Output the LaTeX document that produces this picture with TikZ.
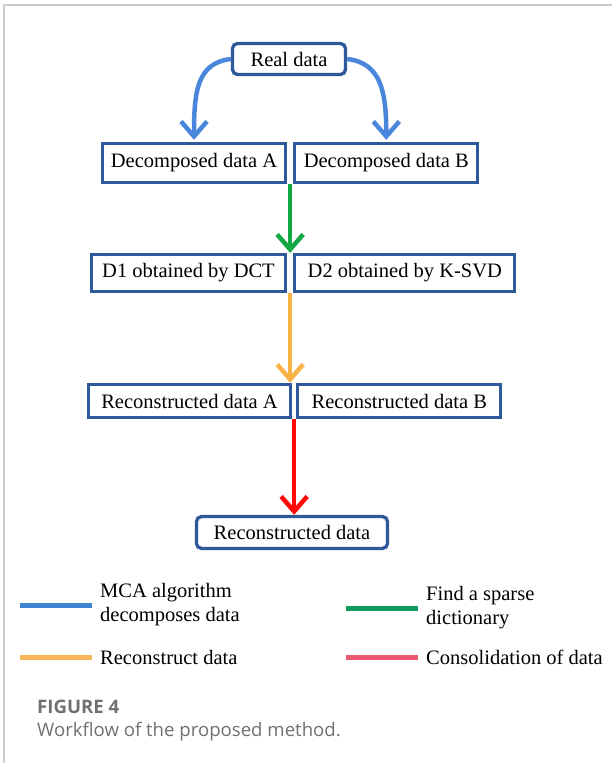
\documentclass[tikz,border=0pt]{standalone}
\usepackage{fontspec}
\setmainfont{Liberation Serif}
\newfontfamily\capfont{Open Sans}
\usetikzlibrary{arrows.meta, positioning, calc}

\definecolor{boxblue}{HTML}{2E5A9C}
\definecolor{arrblue}{HTML}{4A87DC}
\definecolor{arrgreen}{HTML}{13A845}
\definecolor{arrorange}{HTML}{F9B447}
\definecolor{arrred}{HTML}{FF0A0A}
\definecolor{legblue}{HTML}{3D85D3}
\definecolor{leggreen}{HTML}{0D9A5C}
\definecolor{legorange}{HTML}{FAB45C}
\definecolor{legpink}{HTML}{EC5A72}
\definecolor{capgray}{HTML}{707070}
\definecolor{framegray}{HTML}{CCCCCC}

\tikzset{
  box/.style={draw=boxblue, line width=3.3pt, fill=white, inner sep=0pt,
    font=\fontsize{20.5}{24}\selectfont}, % framed boxes of the workflow
  roundbox/.style={box, rounded corners=5pt}, % first and last box
  flow/.style={line width=4.5pt, -{Straight Barb[length=15pt,width=26pt]}},
  swatch/.style={line width=5pt}, % coloured lines of the legend
  legtext/.style={align=left, anchor=west, inner sep=0pt,
    font=\fontsize{20.5}{24}\selectfont},
  captext/.style={anchor=base west, inner sep=0pt, text=capgray},
}

\begin{document}
\begin{tikzpicture}[x=1pt, y=-1pt]
    \useasboundingbox (0,0) rectangle (612,763);
    \draw[framegray, line width=1.2pt] (4,763) -- (4,5) -- (612,5);

    \node[roundbox, minimum width=113pt, minimum height=31pt] (real) at (289,59) {Real data};
    \node[box, minimum width=183pt, minimum height=39pt] (decA) at (194,163) {Decomposed data A};
    \node[box, minimum width=183pt, minimum height=39pt, right=6pt of decA] (decB) {Decomposed data B};
    \node[box, minimum width=194pt, minimum height=37pt] (dA) at (188.5,273) {D1 obtained by DCT};
    \node[box, minimum width=220pt, minimum height=37pt, right=6pt of dA] (dB) {D2 obtained by K-SVD};
    \node[box, minimum width=202pt, minimum height=33pt] (recA) at (189.5,401) {Reconstructed data A};
    \node[box, minimum width=203pt, minimum height=33pt, right=4pt of recA] (recB) {Reconstructed data B};
    \node[roundbox, minimum width=191pt, minimum height=32pt] (rec) at (292,532.5) {Reconstructed data};

    \draw[flow, arrblue] (real.west) .. controls +(-34,4) and +(0,-48) .. ([yshift=2pt]decA.north);
    \draw[flow, arrblue] (real.east) .. controls +(34,4) and +(0,-48) .. ([yshift=2pt]decB.north);
    \draw[flow, arrgreen] ($(decA.south east)!0.5!(decB.south west)$) coordinate (decmid)
      -- (decmid |- dA.north);
    \draw[flow, arrorange] ($(dA.south east)!0.5!(dB.south west)$) coordinate (dmid)
      -- (dmid |- recA.north);
    \draw[flow, arrred] ($(recA.south east)!0.5!(recB.south west)$) coordinate (recmid)
      -- (recmid |- rec.north);

    % legend
    \node[legtext] (lgMCA) at (100,605) {MCA algorithm\\decomposes data};
    \node[legtext] (lgDict) at (426,608) {Find a sparse\\dictionary};
    \node[legtext] (lgRec) at (100,657) {Reconstruct data};
    \node[legtext] (lgCons) at (426,657) {Consolidation of data};
    \draw[swatch, legblue] ([xshift=-8pt]lgMCA.west) -- ++(-72,0);
    \draw[swatch, leggreen] ([xshift=-8pt]lgDict.west) -- ++(-72,0);
    \draw[swatch, legorange] ([xshift=-8pt]lgRec.west) -- ++(-72,0);
    \draw[swatch, legpink] ([xshift=-8pt]lgCons.west) -- ++(-72,0);

    \node[captext, font=\capfont\fontsize{18.6}{22}\selectfont\bfseries] (fig) at (37,713) {FIGURE 4};
    \node[captext, font=\capfont\fontsize{18.6}{22}\selectfont] (capt) at (37,736) {Workflow of the proposed method.};
\end{tikzpicture}
\end{document}
